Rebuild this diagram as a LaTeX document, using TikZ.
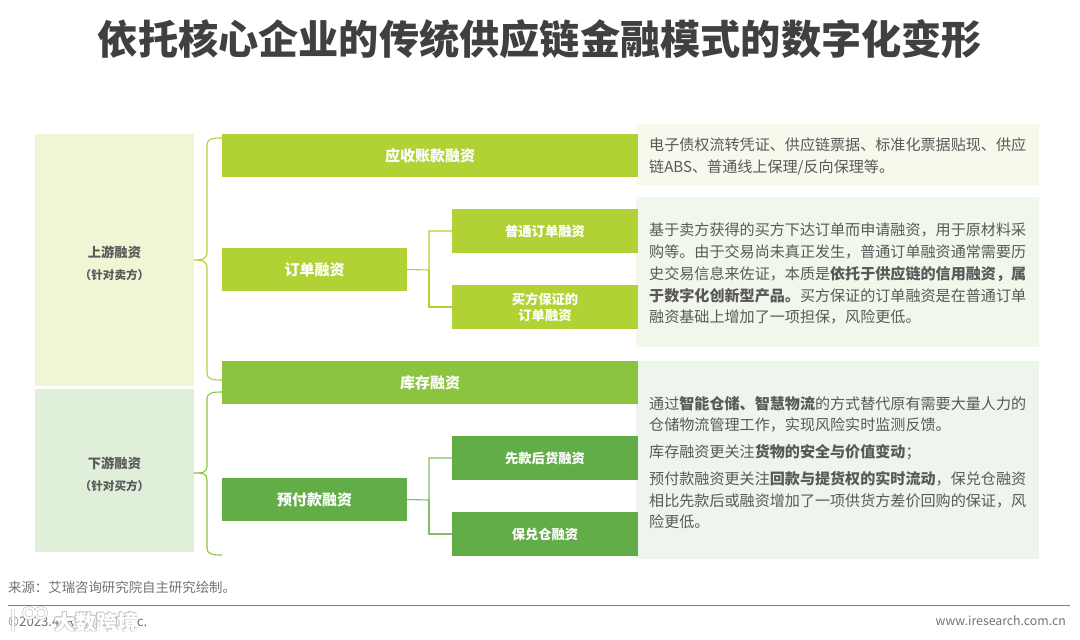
\documentclass[tikz,border=0pt]{standalone}
\usepackage{fontspec}
\setmainfont{Noto Sans CJK SC}
\usetikzlibrary{calc}
\definecolor{cA}{HTML}{B0D235}
\definecolor{cB}{HTML}{8BC540}
\definecolor{cC}{HTML}{62AD47}
\definecolor{pA}{HTML}{F6F9EB}
\definecolor{pB}{HTML}{F1F7EA}
\definecolor{pC}{HTML}{EEF5EC}
\definecolor{lA}{HTML}{EFF5D5}
\definecolor{lB}{HTML}{DFEFDA}
\definecolor{txt}{HTML}{595959}
\definecolor{ttl}{HTML}{404040}
\newcommand{\sidehead}[1]{{\fontsize{13.3}{16}\selectfont\bfseries #1}}
\newcommand{\sidesub}[1]{{\fontsize{11.6}{14}\selectfont\bfseries （#1）}}
\tikzset{
  flat/.style={anchor=north west,inner sep=0pt,outer sep=0pt,align=center},
  bigbox/.style={flat,text=white,font=\fontsize{15}{18}\selectfont\bfseries},
  smallbox/.style={flat,text=white,font=\fontsize{13.3}{16}\selectfont\bfseries,minimum width=186pt,minimum height=44pt},
  sidebox/.style={flat,text=txt,minimum width=159pt},
  panel/.style={flat},
  body/.style={anchor=north west,inner sep=0pt,align=left,text=txt,font=\fontsize{15.08}{21.7}\selectfont},
  brace/.style={line width=1.1pt,line join=round},
  link/.style={line width=1.1pt},
  foot/.style={inner sep=0pt,text=txt!85!white},
  mark glyph/.style={anchor=west,inner sep=0pt,font=\fontsize{21}{23}\selectfont\bfseries},
}
\begin{document}
\begin{tikzpicture}[x=1pt,y=-1pt]
\useasboundingbox (0,0) rectangle (1080,640);
\node[anchor=center,inner sep=0pt,text=ttl,font=\fontsize{40.2}{46}\selectfont\bfseries] (title) at (540,39) {依托核心企业的传统供应链金融模式的数字化变形};

% side boxes
\node[sidebox,fill=lA,minimum height=252pt] (up) at (35,134) {};
\node[anchor=center,inner sep=0pt,text=txt,align=center] (upt) at (114.5,263) {\sidehead{上游融资}\\[10pt]\sidesub{针对卖方}};
\node[sidebox,fill=lB,minimum height=163pt] (down) at (35,389) {};
\node[anchor=center,inner sep=0pt,text=txt,align=center] (downt) at (114.5,474) {\sidehead{下游融资}\\[10pt]\sidesub{针对买方}};

% text panels
\node[panel,fill=pA,minimum width=403pt,minimum height=61pt] (pa) at (636,124) {};
\node[panel,fill=pB,minimum width=403pt,minimum height=150pt] (pb) at (636,197) {};
\node[panel,fill=pC,minimum width=403pt,minimum height=198pt] (pc) at (636,361) {};

% boxes
\node[bigbox,fill=cA,minimum width=416pt,minimum height=43pt] (ar) at (222,134) {\raisebox{-1pt}{应收账款融资}};
\node[bigbox,fill=cA,minimum width=185pt,minimum height=43pt] (order) at (222,248) {\raisebox{-1pt}{订单融资}};
\node[smallbox,fill=cA] (o1) at (452,209) {普通订单融资};
\node[smallbox,fill=cA] (o2) at (452,285) {买方保证的\\订单融资};
\node[bigbox,fill=cB,minimum width=416pt,minimum height=43pt] (inv) at (222,361) {库存融资};
\node[bigbox,fill=cC,minimum width=185pt,minimum height=43pt] (pre) at (222,478) {预付款融资};
\node[smallbox,fill=cC] (p1) at (452,436) {先款后货融资};
\node[smallbox,fill=cC] (p2) at (452,512) {保兑仓融资};

% body text
\node[body] (ta) at (649,138) {电子债权流转凭证、供应链票据、标准化票据贴现、供应\\链ABS、普通线上保理/反向保理等。};
\node[body] (tb) at (649,223) {基于卖方获得的买方下达订单而申请融资，用于原材料采\\购等。由于交易尚未真正发生，普通订单融资通常需要历\\史交易信息来佐证，本质是\textbf{依托于供应链的信用融资，属}\\\textbf{于数字化创新型产品。}买方保证的订单融资是在普通订单\\融资基础上增加了一项担保，风险更低。};
\node[body] (tc) at (649,396) {通过\textbf{智能仓储、智慧物流}的方式替代原有需要大量人力的\\仓储物流管理工作，实现风险实时监测反馈。\\[5pt]库存融资更关注\textbf{货物的安全与价值变动}；\\[5pt]预付款融资更关注\textbf{回款与提货权的实时流动}，保兑仓融资\\相比先款后或融资增加了一项供货方差价回购的保证，风\\险更低。};

% braces
\coordinate (ua) at (222,138);
\coordinate (ub) at (222,380);
\coordinate (da) at (222,392);
\coordinate (db) at (222,555);
\coordinate (dt) at (194,473);
\draw[brace,draw=cA] (ua) .. controls (212,138) and (207,139) .. (207,145) -- (207,252) .. controls (207,258) and (204,260) .. (up.east) .. controls (204,260) and (207,262) .. (207,268) -- (207,373) .. controls (207,379) and (212,380) .. (ub);
\draw[brace,draw=cB] (da) .. controls (212,392) and (207,393) .. (207,399) -- (207,466) .. controls (207,472) and (204,473) .. (dt) .. controls (204,473) and (207,474) .. (207,480) -- (207,548) .. controls (207,554) and (212,555) .. (db);

% links
\coordinate (ju) at (429,270);
\coordinate (jd) at (429,500);
\draw[link,draw=cA] (order.east) -- (ju) |- (o1.west);
\draw[link,draw=cA] (ju) |- (o2.west);
\draw[link,draw=cC!80!white] (pre.east) -- (jd) |- (p1.west);
\draw[link,draw=cC!80!white] (jd) |- (p2.west);

% footer
\node[foot,anchor=west,font=\fontsize{13.4}{15}\selectfont] (src) at (8,587) {来源：艾瑞咨询研究院自主研究绘制。};
\coordinate (ra) at (8,605);
\coordinate (rb) at (1070,605);
\draw[draw=black!50,line width=0.8pt] (ra) -- (rb);
\node[foot,anchor=west,font=\fontsize{13.2}{15}\selectfont] (copy) at (8,621) {©2023.4 iResearch Inc.};
% watermark lying over the copyright line
\draw[black!25,line width=3.2pt] (29,613) circle (5.5) (41,613) circle (5.5) (13,609) -- (13,631);
\draw[white,line width=2pt] (29,613) circle (5.5) (41,613) circle (5.5) (13,609) -- (13,631);
\foreach \i/\dx/\dy in {a/0.8/0.8,b/-0.8/0.8,c/0.8/-0.8,d/-0.8/-0.8}
  \node[mark glyph,text=black!22] (wm\i) at (54+\dx,622+\dy) {大数跨境};
\node[mark glyph,text=white] (wm) at (54,622) {大数跨境};
\node[foot,anchor=east,font=\fontsize{12.3}{14}\selectfont] (web) at (1066,621) {www.iresearch.com.cn};
\end{tikzpicture}
\end{document}
